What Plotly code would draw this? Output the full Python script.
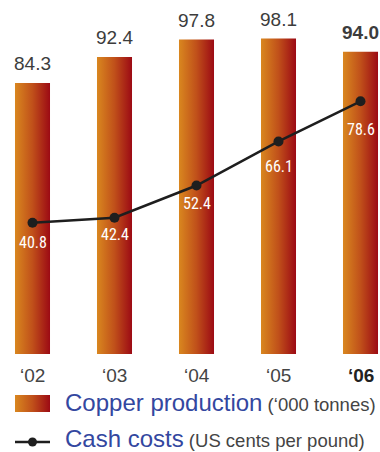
import plotly.graph_objects as go

# ---- data ----
years = ["‘02", "‘03", "‘04", "‘05", "‘06"]
copper_production = [84.3, 92.4, 97.8, 98.1, 94.0]   # '000 tonnes
cash_costs = [40.8, 42.4, 52.4, 66.1, 78.6]          # US cents per pound

# ---- styling ----
W, H = 380, 452
BAR_W = 0.427
GRAD = [[0, "#d9871f"], [0.5, "#c0501a"], [1, "#9c0a14"]]
BLUE = "#3347a0"
GREY = "#3c3c3c"
SANS = "Liberation Sans, Arial, Helvetica, sans-serif"
NARROW = "Liberation Sans Narrow, Arial Narrow, Roboto Condensed, sans-serif"
cost_label_drop = [20, 17, 18, 25, 28]   # px below each cost marker

fig = go.Figure()

# gradient bars drawn as filled polygons on the category index axis
for i, v in enumerate(copper_production):
    x0, x1 = i - BAR_W / 2, i + BAR_W / 2
    fig.add_trace(go.Scatter(
        x=[x0, x1, x1, x0, x0], y=[0, 0, v, v, 0],
        mode="lines", fill="toself", line=dict(width=0),
        fillgradient=dict(type="horizontal", colorscale=GRAD),
        hoverinfo="skip", showlegend=False,
    ))

# cash-cost line
fig.add_trace(go.Scatter(
    x=list(range(len(cash_costs))), y=cash_costs,
    mode="lines+markers",
    line=dict(color="#1e1e1e", width=2.5),
    marker=dict(color="#1e1e1e", size=10),
    hoverinfo="skip", showlegend=False,
))

# value labels
for i, v in enumerate(copper_production):
    last = i == len(copper_production) - 1
    fig.add_annotation(
        x=i, y=v, xref="x", yref="y", yanchor="bottom", yshift=7,
        text=f"<b>{v:.1f}</b>" if last else f"{v:.1f}",
        showarrow=False, font=dict(family=SANS, size=19, color=GREY),
    )
for i, v in enumerate(cash_costs):
    fig.add_annotation(
        x=i, y=v, xref="x", yref="y", yanchor="middle", yshift=-cost_label_drop[i],
        text=f"{v:.1f}", showarrow=False,
        font=dict(family=NARROW, size=16, color="white"),
    )

# year labels
for i, yr in enumerate(years):
    last = i == len(years) - 1
    fig.add_annotation(
        x=i, y=375, xref="x", yref="y2", yanchor="middle",
        text=f"<b>{yr}</b>" if last else yr, showarrow=False,
        font=dict(family=SANS, size=19, color="#222" if last else "#444"),
    )

# legend (drawn on a pixel-scaled second axis pair covering the page)
fig.add_trace(go.Scatter(
    x=[15, 50, 50, 15, 15], y=[395, 395, 412, 412, 395],
    xaxis="x2", yaxis="y2", mode="lines", fill="toself", line=dict(width=0),
    fillgradient=dict(type="horizontal", colorscale=GRAD),
    hoverinfo="skip", showlegend=False,
))
fig.add_trace(go.Scatter(
    x=[15, 50], y=[442, 442], xaxis="x2", yaxis="y2",
    mode="lines", line=dict(color="#1e1e1e", width=2.5),
    hoverinfo="skip", showlegend=False,
))
fig.add_trace(go.Scatter(
    x=[32.5], y=[442], xaxis="x2", yaxis="y2",
    mode="markers", marker=dict(color="#1e1e1e", size=9),
    hoverinfo="skip", showlegend=False,
))
legend_rows = [
    ("Copper production", " (‘000 tonnes)", 402.5),
    ("Cash costs", " (US cents per pound)", 438.5),
]
for main, unit, ypx in legend_rows:
    fig.add_annotation(
        x=63, y=ypx, xref="x2", yref="y2", xanchor="left", yanchor="middle",
        height=27, showarrow=False,
        text=(f"<span style='color:{BLUE};font-size:24px'>{main}</span>"
              f"<span style='color:#444;font-size:18.5px'>{unit}</span>"),
        font=dict(family=SANS, size=24, color=BLUE),
    )

ymax = 110.1
fig.update_layout(
    width=W, height=H, margin=dict(l=0, r=0, t=0, b=0),
    paper_bgcolor="white", plot_bgcolor="rgba(0,0,0,0)",
    xaxis=dict(range=[-32.5 / 82, (W - 32.5) / 82], domain=[0, 1],
               visible=False, fixedrange=True),
    yaxis=dict(range=[0, ymax], domain=[(H - 354) / H, 1],
               visible=False, fixedrange=True),
    xaxis2=dict(range=[0, W], domain=[0, 1], anchor="y2",
                visible=False, fixedrange=True),
    yaxis2=dict(range=[H, 0], domain=[0, 1], anchor="x2",
                visible=False, fixedrange=True),
    showlegend=False,
)

fig.write_html("out.html")
